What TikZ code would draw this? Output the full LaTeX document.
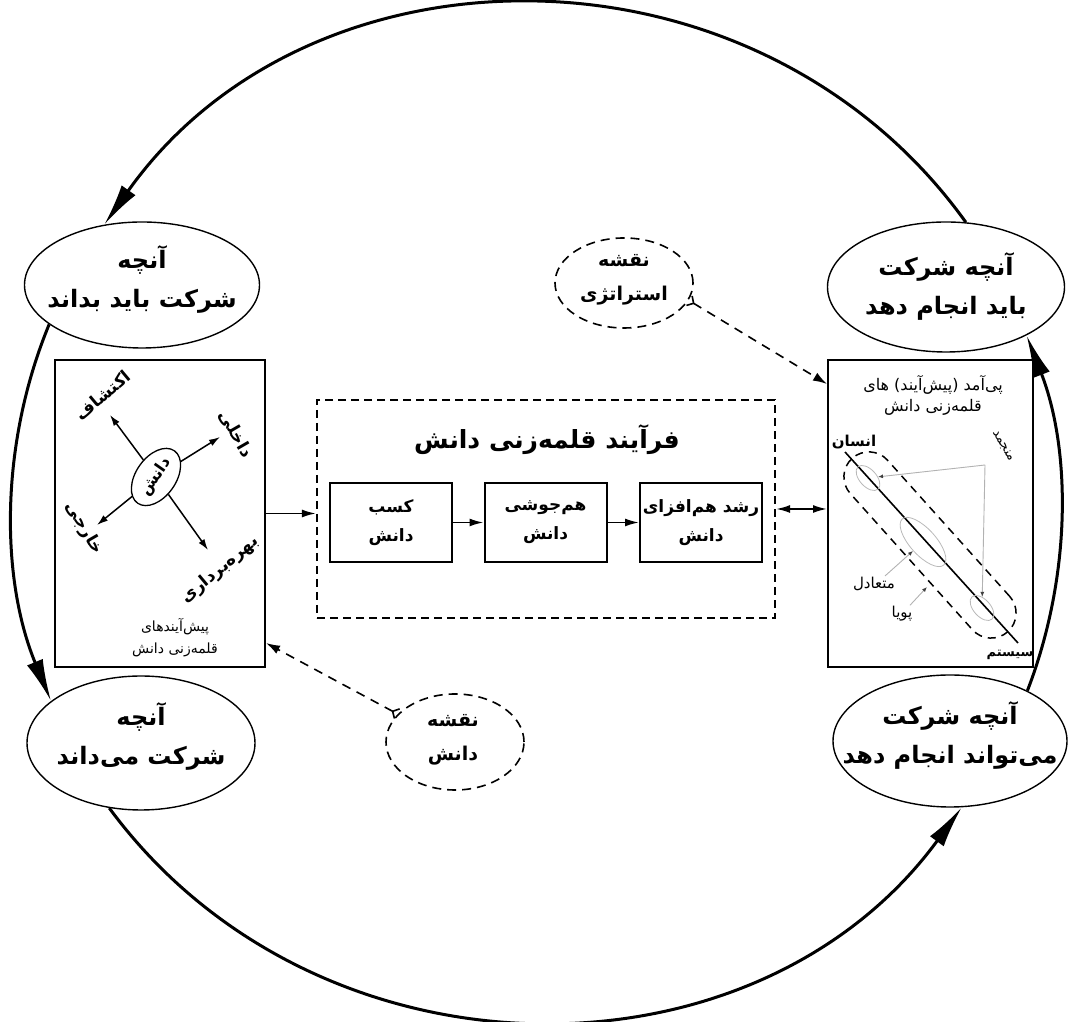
\documentclass[tikz,border=0pt]{standalone}
\usepackage{fontspec}
\usetikzlibrary{arrows.meta,shapes.geometric}
\newfontfamily\fafont[Script=Arabic]{DejaVu Sans}
\TeXXeTstate=1
\newcommand{\rtl}[1]{\beginR #1\endR}
\tikzset{
  bigell/.style={ellipse, draw, line width=1.4pt, inner sep=0pt},
  elltxt/.style={align=center, inner sep=0pt,
    font=\fafont\bfseries\fontsize{24}{39}\selectfont},
  mapell/.style={ellipse, draw, line width=1.6pt, dash pattern=on 9pt off 6pt,
    inner sep=0pt, minimum width=138pt},
  maptxt/.style={align=center, inner sep=0pt,
    font=\fafont\bfseries\fontsize{19}{34}\selectfont},
  bigbox/.style={draw, line width=2pt, inner sep=0pt},
  procbox/.style={draw, line width=2pt, minimum width=122pt, minimum height=79pt,
    inner sep=0pt, align=center, font=\fafont\bfseries\fontsize{17}{29}\selectfont},
  arr/.style={line width=1.8pt, -{Latex[length=14pt,width=8pt]}},
  biarr/.style={line width=1.8pt, {Latex[length=14pt,width=8pt]}-{Latex[length=14pt,width=8pt]}},
  arcarr/.style={line width=3pt, -{Latex[length=42pt,width=17pt]}},
  smarr/.style={line width=1.5pt, -{Latex[length=11pt,width=7pt]}},
  darr/.style={line width=1.6pt, dash pattern=on 9pt off 7pt,
    {Straight Barb[reversed,length=5pt,width=11pt]}-{Latex[length=14pt,width=9pt]}},
  grarr/.style={draw=gray!60, line width=0.9pt, -{Latex[length=5pt,width=4pt,color=black!75]}},
  lbl/.style={font=\fafont\bfseries\fontsize{17}{19}\selectfont, inner sep=1pt},
  capt/.style={align=center, font=\fafont\fontsize{14}{22}\selectfont},
  small/.style={font=\fafont\fontsize{15}{17}\selectfont, inner sep=1pt},
  grell/.style={ellipse, draw=gray!55, line width=0.8pt, inner sep=0pt, rotate=-48}
}
\begin{document}
\begin{tikzpicture}[x=1pt,y=1pt]
\useasboundingbox (0,0) rectangle (1068,1022);
% four main ellipses
\node[bigell, minimum width=235pt, minimum height=126pt] (tl) at (142,1022-285) {};
\node[bigell, minimum width=237pt, minimum height=130pt] (tr) at (946,1022-287) {};
\node[bigell, minimum width=228pt, minimum height=134pt] (bl) at (141,1022-743) {};
\node[bigell, minimum width=234pt, minimum height=132pt] (br) at (950,1022-741) {};
\node[elltxt] (tlt) at (142,1022-279) {\rtl{آنچه}\\\rtl{شرکت باید بداند}};
\node[elltxt] (trt) at (946,1022-286) {\rtl{آنچه شرکت}\\\rtl{باید انجام دهد}};
\node[elltxt] (blt) at (141,1022-736) {\rtl{آنچه}\\\rtl{شرکت می‌داند}};
\node[elltxt] (brt) at (950,1022-735) {\rtl{آنچه شرکت}\\\rtl{می‌تواند انجام دهد}};
% cycle arcs
\draw[arcarr] (tr.73.5) to[out=125.7, in=54.7, looseness=1.06] (tl.122.1);
\draw[arcarr] (tl.203.5) to[out=247.6, in=112.5, looseness=0.89] (bl.155.4);
\draw[arcarr] (bl.244.2) to[out=306.4, in=233.8, looseness=1.055] (br.280.3);
\draw[arcarr] (br.33.9) to[out=68.9, in=291.2, looseness=0.885] (tr.329.1);
% boxes
\node[bigbox, minimum width=210pt, minimum height=307pt] (lb) at (160,1022-513.5) {};
\node[bigbox, minimum width=205pt, minimum height=307pt] (rb) at (930.5,1022-513.5) {};
\node[draw, line width=2.2pt, dash pattern=on 8pt off 5pt, minimum width=458pt,
  minimum height=218pt, inner sep=0pt] (pb) at (546,1022-509) {};
\node[font=\fafont\bfseries\fontsize{25}{30}\selectfont] (ttl) at (547,1022-440)
  {\rtl{فرآیند قلمه‌زنی دانش}};
\node[procbox] (k1) at (391,1022-522.5) {\rtl{کسب}\\\rtl{دانش}};
\node[procbox] (k2) at (545.5,1022-522.5) {\rtl{هم‌جوشی}\\\rtl{دانش}};
\node[procbox] (k3) at (701,1022-522.5) {\rtl{رشد هم‌افزای}\\\rtl{دانش}};
\draw[arr] (k1) -- (k2);
\draw[arr] (k2) -- (k3);
\draw[arr] (lb.east) -- (lb.east -| pb.west);
\draw[biarr] (pb.east) -- (pb.east -| rb.west);
% left box content
\node[ellipse, draw, line width=1.3pt, rotate=55, minimum width=64pt, minimum height=40pt,
  inner sep=0pt, font=\fafont\bfseries\fontsize{16}{18}\selectfont] (dn) at (156,1022-477) {\rtl{دانش}};
\coordinate (t1) at (110,1022-415);
\coordinate (t2) at (220,1022-437);
\coordinate (t3) at (97,1022-525);
\coordinate (t4) at (208,1022-550);
\draw[smarr] (dn) -- (t1);
\draw[smarr] (dn) -- (t2);
\draw[smarr] (dn) -- (t3);
\draw[smarr] (dn) -- (t4);
\node[lbl, rotate=40] (l1) at (103,1022-395) {\rtl{اکتشاف}};
\node[lbl, rotate=-60] (l2) at (236,1022-434) {\rtl{داخلی}};
\node[lbl, rotate=-60] (l3) at (84,1022-528) {\rtl{خارجی}};
\node[lbl, rotate=40] (l4) at (220,1022-570) {\rtl{بهره‌برداری}};
\node[capt] (lc) at (175,1022-638) {\rtl{پیش‌آیندهای}\\\rtl{قلمه‌زنی دانش}};
% right box content
\node[capt, font=\fafont\fontsize{16}{21}\selectfont] (rc) at (933,1022-395)
  {\rtl{پی‌آمد (پیش‌آیند) های}\\\rtl{قلمه‌زنی دانش}};
\node[lbl, font=\fafont\bfseries\fontsize{15}{18}\selectfont] (ins) at (854,1022-442) {\rtl{انسان}};
\node[lbl, font=\fafont\bfseries\fontsize{13}{16}\selectfont] (sys) at (1010,1022-655) {\rtl{سیستم}};
\coordinate (la) at (845,1022-452);
\coordinate (lz) at (1018,1022-643);
\node[draw, rectangle, rounded corners=25pt, rotate=-48.1, minimum width=233pt,
  minimum height=50pt, line width=1.5pt, dash pattern=on 8pt off 6pt] (st) at (930,1022-545) {};
\draw[line width=1.6pt] (la) -- (lz);
\node[grell, minimum width=30pt, minimum height=17pt] (g1) at (868,1022-478) {};
\node[grell, minimum width=62pt, minimum height=26pt] (g2) at (923,1022-542) {};
\node[grell, minimum width=30pt, minimum height=17pt] (g3) at (982,1022-608) {};
\node[small, rotate=-60, font=\fafont\fontsize{13}{15}\selectfont] (mj) at (1003,1022-446) {\rtl{منجمد}};
\coordinate (pj) at (985,1022-465);
\draw[grarr] (pj) -- (g1);
\draw[grarr] (pj) -- (g3);
\node[small] (mt) at (874,1022-584) {\rtl{متعادل}};
\draw[grarr] ([xshift=11pt]mt.north) -- (g2);
\node[small] (py) at (902,1022-614) {\rtl{پویا}};
\coordinate (pyt) at (927,1022-587);
\draw[grarr] ([xshift=8pt]py.north) -- (pyt);
% map ellipses
\node[mapell, minimum height=90pt] (ns) at (624,1022-283) {};
\node[mapell, minimum height=96pt] (nd) at (455,1022-742) {};
\node[maptxt] (nst) at (624,1022-280) {\rtl{نقشه}\\\rtl{استراتژی}};
\node[maptxt] (ndt) at (453,1022-740) {\rtl{نقشه}\\\rtl{دانش}};
\draw[darr] (ns.-15) -- ([yshift=-25pt]rb.north west);
\draw[darr] (nd.154.5) -- ([yshift=25pt]lb.south east);
\end{tikzpicture}
\end{document}
